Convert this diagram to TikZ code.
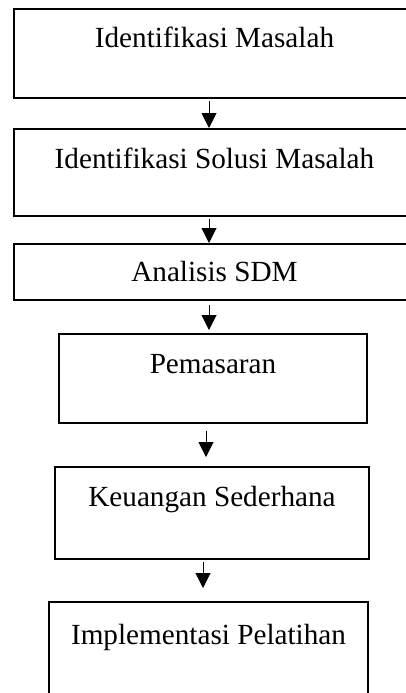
\documentclass[tikz,border=0pt]{standalone}
\usepackage{fontspec}
\setmainfont{Liberation Serif}
\usetikzlibrary{arrows.meta}
\begin{document}
\begin{tikzpicture}[x=1pt,y=-1pt,
  box/.style={draw=black,line width=2pt,rectangle,anchor=north west,inner xsep=0pt,inner ysep=0pt,
    font=\fontsize{29.2}{35}\selectfont,align=center},
  arr/.style={line width=1pt,-{Triangle[width=15pt,length=15pt]}}]
\useasboundingbox (0,0) rectangle (406,693);
\clip (0,0) rectangle (406,693);
\fill[white] (0,0) rectangle (406,693);
\node[box,minimum width=401pt,text height=39pt,text depth=50pt] (b1) at (13,8) {Identifikasi Masalah};
\node[box,minimum width=401pt,text height=39pt,text depth=48pt] (b2) at (13,128) {Identifikasi Solusi Masalah};
\node[box,minimum width=401pt,text height=37pt,text depth=19pt] (b3) at (13,243) {Analisis SDM};
\node[box,minimum width=308pt,text height=39pt,text depth=50pt] (b4) at (58,333) {Pemasaran};
\node[box,minimum width=314pt,text height=39pt,text depth=53pt] (b5) at (54,466) {Keuangan Sederhana};
\node[box,minimum width=319pt,text height=42pt,text depth=67pt] (b6) at (48,601) {Implementasi Pelatihan};
\draw[arr] ([xshift=-5.5pt,yshift=-2pt]b1.south) -- ([xshift=-5.5pt]b2.north);
\draw[arr] ([xshift=-5.5pt,yshift=-2pt]b2.south) -- ([xshift=-5.5pt]b3.north);
\draw[arr] ([xshift=-5.5pt,yshift=-4pt]b3.south) -- ([xshift=-4pt,yshift=3pt]b4.north);
\draw[arr] ([xshift=-7pt,yshift=-7pt]b4.south) -- ([xshift=-6pt,yshift=9pt]b5.north);
\draw[arr] ([xshift=-9pt,yshift=-2pt]b5.south) -- ([xshift=-5.5pt,yshift=13pt]b6.north);
\end{tikzpicture}
\end{document}
